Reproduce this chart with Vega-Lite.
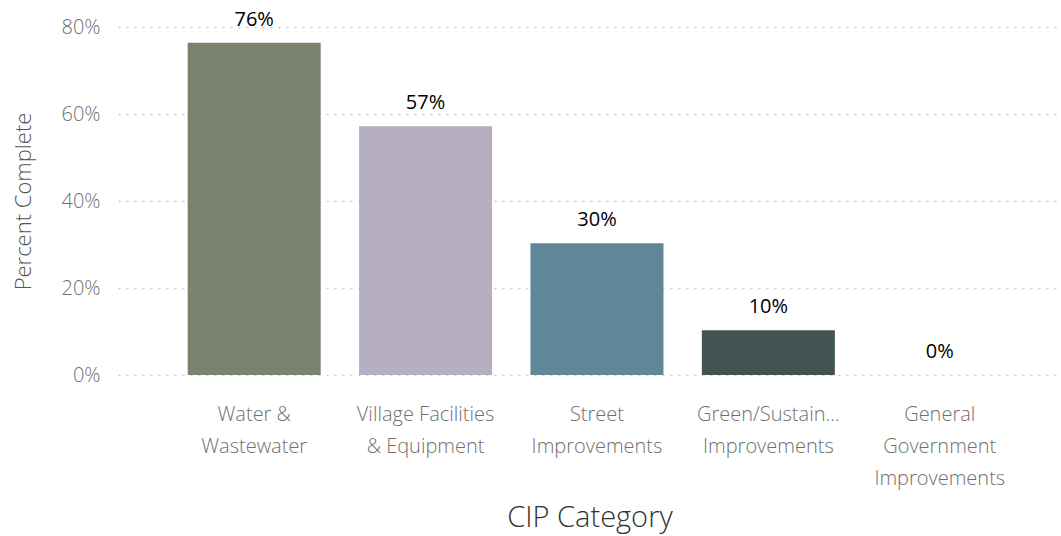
{
  "$schema": "https://vega.github.io/schema/vega-lite/v6.json",
  "autosize": {"type": "none"},
  "padding": {"left": 118, "top": 27, "right": 0, "bottom": 161},
  "width": 943,
  "height": 348,
  "background": "white",
  "config": {
    "view": {"stroke": null},
    "font": "Open Sans"
  },
  "data": {
    "values": [
      {"category": "Water & Wastewater", "pct": 0.764},
      {"category": "Village Facilities & Equipment", "pct": 0.572},
      {"category": "Street Improvements", "pct": 0.303},
      {"category": "Green/Sustainability Improvements", "pct": 0.103},
      {"category": "General Government Improvements", "pct": 0.0}
    ]
  },
  "encoding": {
    "x": {
      "field": "category",
      "type": "nominal",
      "sort": null,
      "scale": {"paddingInner": 0.224, "paddingOuter": 0.363, "align": 0.56},
      "axis": {
        "title": "CIP Category",
        "titleFont": "Open Sans",
        "titleFontWeight": 300,
        "titleFontSize": 29,
        "titleColor": "#333333",
        "titlePadding": 15,
        "labelAngle": 0,
        "labelFontSize": 20,
        "labelFontWeight": 300,
        "labelColor": "#707070",
        "labelLineHeight": 32,
        "labelPadding": 29,
        "labelBaseline": "top",
        "domain": false,
        "ticks": false,
        "grid": false,
        "labelExpr": "datum.value == 'Water & Wastewater' ? ['Water &', 'Wastewater'] : datum.value == 'Village Facilities & Equipment' ? ['Village Facilities', '& Equipment'] : datum.value == 'Street Improvements' ? ['Street', 'Improvements'] : datum.value == 'Green/Sustainability Improvements' ? ['Green/Sustain...', 'Improvements'] : ['General', 'Government', 'Improvements']"
      }
    },
    "y": {
      "field": "pct",
      "type": "quantitative",
      "scale": {"domain": [0, 0.8], "nice": false},
      "axis": {
        "title": "Percent Complete",
        "titleFont": "Open Sans",
        "titleFontWeight": 300,
        "titleFontSize": 22,
        "titleColor": "#555555",
        "titlePadding": 26,
        "format": ".0%",
        "values": [0, 0.2, 0.4, 0.6, 0.8],
        "labelFontSize": 20,
        "labelFontWeight": 300,
        "labelColor": "#707070",
        "labelPadding": 18,
        "domain": false,
        "ticks": false,
        "grid": true,
        "gridColor": "#c8c8c8",
        "gridDash": [2, 6],
        "gridWidth": 1.5
      }
    }
  },
  "layer": [
    {
      "mark": {"type": "bar"},
      "encoding": {
        "color": {
          "field": "category",
          "type": "nominal",
          "sort": null,
          "scale": {
            "domain": ["Water & Wastewater", "Village Facilities & Equipment", "Street Improvements", "Green/Sustainability Improvements", "General Government Improvements"],
            "range": ["#78826c", "#b6aec1", "#608797", "#435553", "#8a8a8a"]
          },
          "legend": null
        }
      }
    },
    {
      "mark": {"type": "text", "baseline": "alphabetic", "dy": -17, "fontSize": 20, "color": "#000000", "font": "Open Sans"},
      "encoding": {
        "text": {"field": "pct", "type": "quantitative", "format": ".0%"}
      }
    }
  ]
}
